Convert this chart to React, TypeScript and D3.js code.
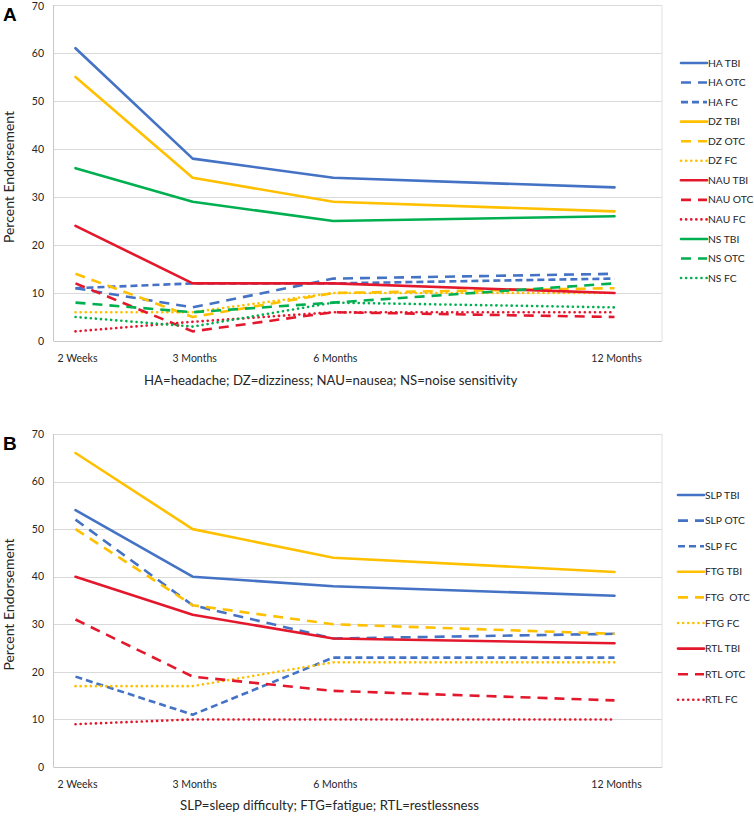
import React from "react";
import * as d3 from "d3";

// ---------- data ----------
const timeMonths = [0.5, 3, 6, 12];
const timeLabels = ["2 Weeks", "3 Months", "6 Months", "12 Months"];
const yTicks = [0, 10, 20, 30, 40, 50, 60, 70];

// Panel A
const namesA = ["HA TBI", "HA OTC", "HA FC", "DZ TBI", "DZ OTC", "DZ FC", "NAU TBI", "NAU OTC", "NAU FC", "NS TBI", "NS OTC", "NS FC"];
const haTBI = [61, 38, 34, 32];
const haOTC = [11, 7, 13, 14];
const haFC = [11, 12, 12, 13];
const dzTBI = [55, 34, 29, 27];
const dzOTC = [14, 5, 10, 11];
const dzFC = [6, 6, 10, 10];
const nauTBI = [24, 12, 12, 10];
const nauOTC = [12, 2, 6, 5];
const nauFC = [2, 4, 6, 6];
const nsTBI = [36, 29, 25, 26];
const nsOTC = [8, 6, 8, 12];
const nsFC = [5, 3, 8, 7];
const valuesA = [haTBI, haOTC, haFC, dzTBI, dzOTC, dzFC, nauTBI, nauOTC, nauFC, nsTBI, nsOTC, nsFC];
const captionA = "HA=headache; DZ=dizziness; NAU=nausea; NS=noise sensitivity";

// Panel B
const namesB = ["SLP TBI", "SLP OTC", "SLP FC", "FTG TBI", "FTG  OTC", "FTG FC", "RTL TBI", "RTL OTC", "RTL FC"];
const slpTBI = [54, 40, 38, 36];
const slpOTC = [52, 34, 27, 28];
const slpFC = [19, 11, 23, 23];
const ftgTBI = [66, 50, 44, 41];
const ftgOTC = [50, 34, 30, 28];
const ftgFC = [17, 17, 22, 22];
const rtlTBI = [40, 32, 27, 26];
const rtlOTC = [31, 19, 16, 14];
const rtlFC = [9, 10, 10, 10];
const valuesB = [slpTBI, slpOTC, slpFC, ftgTBI, ftgOTC, ftgFC, rtlTBI, rtlOTC, rtlFC];
const captionB = "SLP=sleep difficulty; FTG=fatigue; RTL=restlessness";

// ---------- styles ----------
const BLUE = "#4472C4";
const YELLOW = "#FFC000";
const RED = "#E3182D";
const GREEN = "#00B050";
const colorsA = [BLUE, BLUE, BLUE, YELLOW, YELLOW, YELLOW, RED, RED, RED, GREEN, GREEN, GREEN];
const colorsB = [BLUE, BLUE, BLUE, YELLOW, YELLOW, YELLOW, RED, RED, RED];
const DASH: Record<string, { dash?: string; cap: "butt" | "round" }> = {
  solid: { cap: "round" },
  long: { dash: "10,7", cap: "butt" },
  short: { dash: "7,4", cap: "butt" },
  dot: { dash: "0.1,5", cap: "round" },
};
const stylesA = ["solid", "long", "short", "solid", "long", "dot", "solid", "long", "dot", "solid", "long", "dot"];
const stylesB = ["solid", "long", "short", "solid", "long", "dot", "solid", "long", "dot"];

const FONT = "Lato, 'Open Sans', sans-serif";
const TXT = "#262626";

interface PanelProps {
  letter: string;
  top: number;
  bottom: number;
  names: string[];
  values: number[][];
  colors: string[];
  styles: string[];
  legendX: number;
  legendY0: number;
  legendStep: number;
  caption: string;
  captionX: number;
  captionY: number;
  tickY: number;
}

function Panel(p: PanelProps) {
  const left = 53.5;
  const right = 662;
  const x = d3.scaleLinear().domain([0.5, 12]).range([75.5, 614.5]);
  const y = d3.scaleLinear().domain([0, 70]).range([p.bottom, p.top]);
  const line = d3
    .line<number>()
    .x((_, i) => x(timeMonths[i]))
    .y((d) => y(d));
  return (
    <g>
      <text x={3} y={p.top + 16} fontFamily="'Liberation Sans', Arial, sans-serif" fontWeight="bold" fontSize={19} fill="#000">
        {p.letter}
      </text>
      {yTicks.map((t) => (
        <g key={t}>
          {t > 0 && (
            <line x1={left} x2={right} y1={Math.round(y(t)) + 0.5} y2={Math.round(y(t)) + 0.5} stroke="#D9D9D9" strokeWidth={1} />
          )}
          <text x={44} y={Math.max(y(t), 6)} dy="0.35em" textAnchor="end" fontFamily={FONT} fontSize={10.5} fill={TXT}>
            {t}
          </text>
        </g>
      ))}
      <line x1={left} x2={left} y1={y(70)} y2={y(0)} stroke="#C8C8C8" strokeWidth={1} />
      <line x1={left} x2={right} y1={Math.round(y(0)) + 0.5} y2={Math.round(y(0)) + 0.5} stroke="#C8C8C8" strokeWidth={1} />
      <line x1={right} x2={right} y1={y(70)} y2={y(0)} stroke="#E0E0E0" strokeWidth={1} />
      <text
        transform={`translate(14,${(p.top + p.bottom) / 2 + 4}) rotate(-90)`}
        textAnchor="middle"
        fontFamily={FONT}
        fontSize={14}
        fill={TXT}
      >
        Percent Endorsement
      </text>
      {timeLabels.map((l, i) => (
        <text key={l} x={x(timeMonths[i]) + 2} y={p.tickY} textAnchor="middle" fontFamily={FONT} fontSize={10.5} fill={TXT}>
          {l}
        </text>
      ))}
      {p.values.map((v, i) => {
        const s = DASH[p.styles[i]];
        return (
          <path
            key={p.names[i]}
            d={line(v) || ""}
            fill="none"
            stroke={p.colors[i]}
            strokeWidth={2.6}
            strokeDasharray={s.dash}
            strokeLinecap={s.cap}
            strokeLinejoin="round"
          />
        );
      })}
      {p.names.map((n, i) => {
        const s = DASH[p.styles[i]];
        const ly = p.legendY0 + i * p.legendStep;
        return (
          <g key={n}>
            <line
              x1={p.legendX}
              x2={p.legendX + 26}
              y1={ly}
              y2={ly}
              stroke={p.colors[i]}
              strokeWidth={2.6}
              strokeDasharray={s.dash}
              strokeLinecap={s.cap}
            />
            <text x={p.legendX + 27} y={ly} dy="0.35em" fontFamily={FONT} fontSize={10.3} fill={TXT} style={{ whiteSpace: "pre" }}>
              {n}
            </text>
          </g>
        );
      })}
      <text x={p.captionX} y={p.captionY} dy="0.35em" fontFamily={FONT} fontSize={13.2} fill={TXT}>
        {p.caption}
      </text>
    </g>
  );
}

export default function App() {
  return (
    <svg width={754} height={822} style={{ position: "absolute", left: 0, top: 0, background: "#fff" }}>
      <rect width={754} height={822} fill="#fff" />
      <Panel
        letter="A"
        top={5}
        bottom={341}
        names={namesA}
        values={valuesA}
        colors={colorsA}
        styles={stylesA}
        legendX={681}
        legendY0={63}
        legendStep={19.55}
        caption={captionA}
        captionX={144}
        captionY={380}
        tickY={362}
      />
      <Panel
        letter="B"
        top={434}
        bottom={767}
        names={namesB}
        values={valuesB}
        colors={colorsB}
        styles={stylesB}
        legendX={678}
        legendY0={495}
        legendStep={25.6}
        caption={captionB}
        captionX={180}
        captionY={805}
        tickY={788}
      />
    </svg>
  );
}
